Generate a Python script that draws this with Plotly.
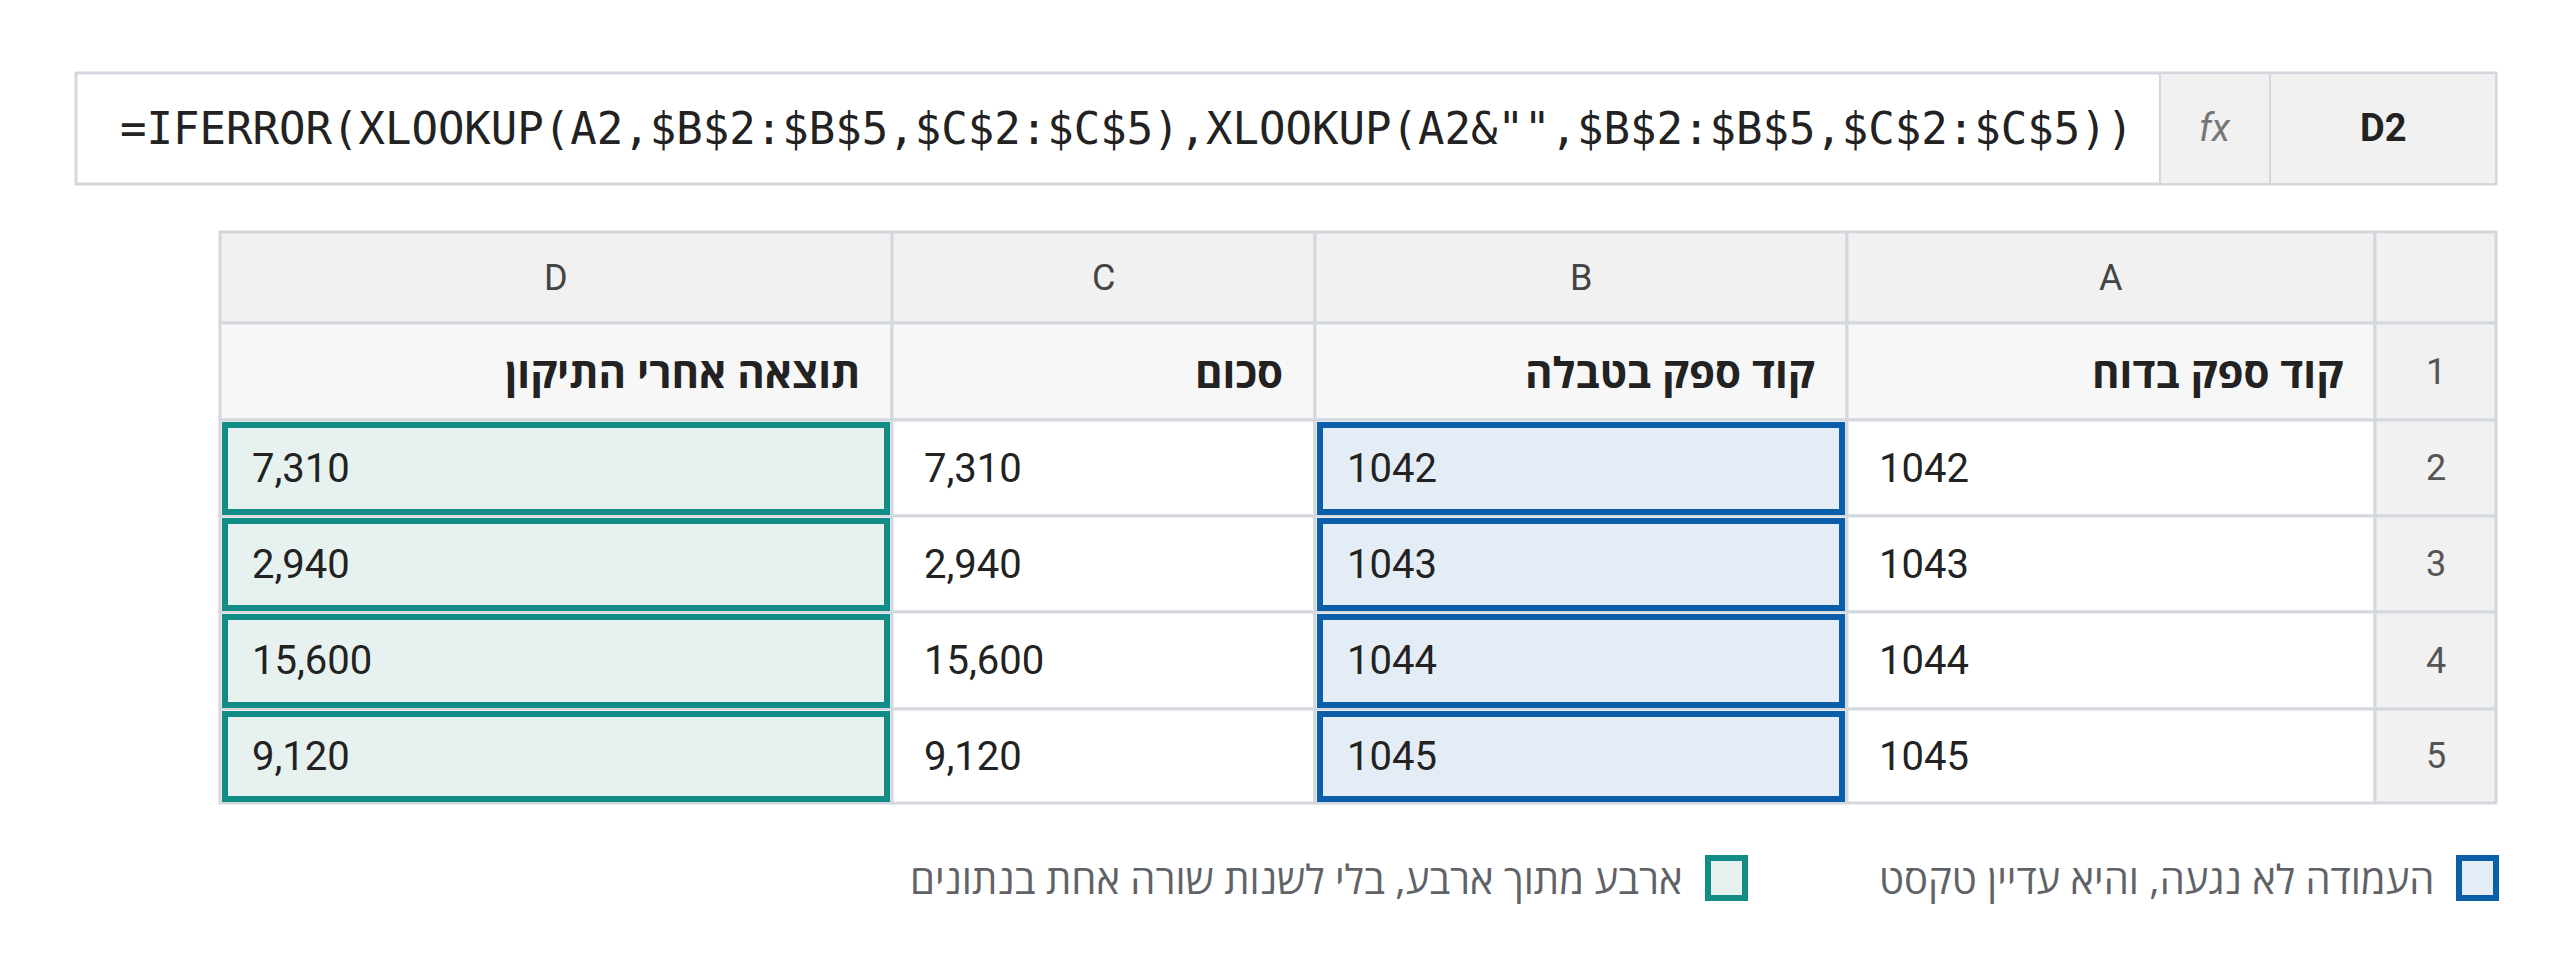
import plotly.graph_objects as go

formula = '=IFERROR(XLOOKUP(A2,$B$2:$B$5,$C$2:$C$5),XLOOKUP(A2&"",$B$2:$B$5,$C$2:$C$5))'
cell_ref = "D2"
col_letters = ["D", "C", "B", "A"]
headers = ["תוצאה אחרי התיקון", "סכום", "קוד ספק בטבלה", "קוד ספק בדוח"]
row_nums = ["1", "2", "3", "4", "5"]
col_a = ["1042", "1043", "1044", "1045"]
col_b = ["1042", "1043", "1044", "1045"]
col_c = ["7,310", "2,940", "15,600", "9,120"]
col_d = ["7,310", "2,940", "15,600", "9,120"]
legend_labels = ["העמודה לא נגעה, והיא עדיין טקסט", "ארבע מתוך ארבע, בלי לשנות שורה אחת בנתונים"]

W, H = 2560, 967
col_edges = [212, 884, 1307, 1839, 2367, 2488]  # D, C, B, A, row-number
row_edges = [224, 315, 412, 508, 604, 701, 795]
GRID = "#d3d8de"
TEAL, TEAL_BG = "#128d85", "#e6f1f0"
BLUE, BLUE_BG = "#0b5fa8", "#e4ecf5"
TXT = "#222222"
FONT = "Roboto"
HEB = "'Open Sans', 'Liberation Sans', sans-serif"

shapes, ann = [], []


def rect(x0, y0, x1, y1, fill, line, w=2):
    shapes.append(dict(type="rect", xref="x", yref="y", x0=x0, x1=x1, y0=y0, y1=y1,
                       fillcolor=fill, line=dict(color=line, width=w), layer="below"))


def text(x, y, s, size, color=TXT, anchor="left", family=FONT, bold=False):
    if bold:
        s = "<b>" + s + "</b>"
    ann.append(dict(x=x, y=y, xref="x", yref="y", text=s, showarrow=False, xanchor=anchor,
                    yanchor="middle", font=dict(size=size, color=color, family=family)))


# formula bar
rect(68, 65, 2488, 176, "white", GRID, 3)
rect(2152, 65, 2262, 176, "#f1f1f1", GRID, 2)
rect(2262, 65, 2488, 176, "#f1f1f1", GRID, 2)
text(110, 120, formula, 44, family="DejaVu Sans Mono")
text(2207, 120, "<i>fx</i>", 38, color="#777", anchor="center")
text(2375, 120, cell_ref, 38, anchor="center", bold=True)

# table background grid
for r in range(6):
    y0, y1 = row_edges[r], row_edges[r + 1]
    for c in range(5):
        x0, x1 = col_edges[c], col_edges[c + 1]
        if r == 0 or c == 4:
            fill = "#f1f1f1"
        elif r == 1:
            fill = "#f7f7f7"
        else:
            fill = "white"
        rect(x0, y0, x1, y1, fill, GRID, 3)

# column letters
for c, letter in enumerate(col_letters):
    text((col_edges[c] + col_edges[c + 1]) / 2, (row_edges[0] + row_edges[1]) / 2, letter, 36,
         color="#444", anchor="center")
# row numbers
for r, n in enumerate(row_nums):
    text((col_edges[4] + col_edges[5]) / 2, (row_edges[r + 1] + row_edges[r + 2]) / 2, n, 36,
         color="#555", anchor="center")
# headers
for c, h in enumerate(headers):
    text(col_edges[c + 1] - 30, (row_edges[1] + row_edges[2]) / 2, h, 42, anchor="right",
         family=HEB, bold=True)

# data cells
for i in range(4):
    y0, y1 = row_edges[i + 2], row_edges[i + 3]
    ym = (y0 + y1) / 2
    rect(col_edges[0] + 5, y0 + 5, col_edges[1] - 5, y1 - 4, TEAL_BG, TEAL, 6)
    rect(col_edges[2] + 5, y0 + 5, col_edges[3] - 5, y1 - 4, BLUE_BG, BLUE, 6)
    text(col_edges[0] + 30, ym, col_d[i], 40)
    text(col_edges[1] + 30, ym, col_c[i], 40)
    text(col_edges[2] + 30, ym, col_b[i], 40)
    text(col_edges[3] + 30, ym, col_a[i], 40)

# legend
rect(2451, 850, 2488, 890, BLUE_BG, BLUE, 6)
text(2428, 870, legend_labels[0], 40, color="#5f6368", anchor="right", family=HEB)
rect(1700, 850, 1737, 890, TEAL_BG, TEAL, 6)
text(1676, 870, legend_labels[1], 40, color="#5f6368", anchor="right", family=HEB)

fig = go.Figure()
fig.update_layout(
    width=W, height=H, margin=dict(l=0, r=0, t=0, b=0),
    paper_bgcolor="white", plot_bgcolor="white",
    xaxis=dict(range=[0, W], visible=False, fixedrange=True),
    yaxis=dict(range=[H, 0], visible=False, fixedrange=True),
    shapes=shapes, annotations=ann, showlegend=False,
)
fig.write_html("out.html")
